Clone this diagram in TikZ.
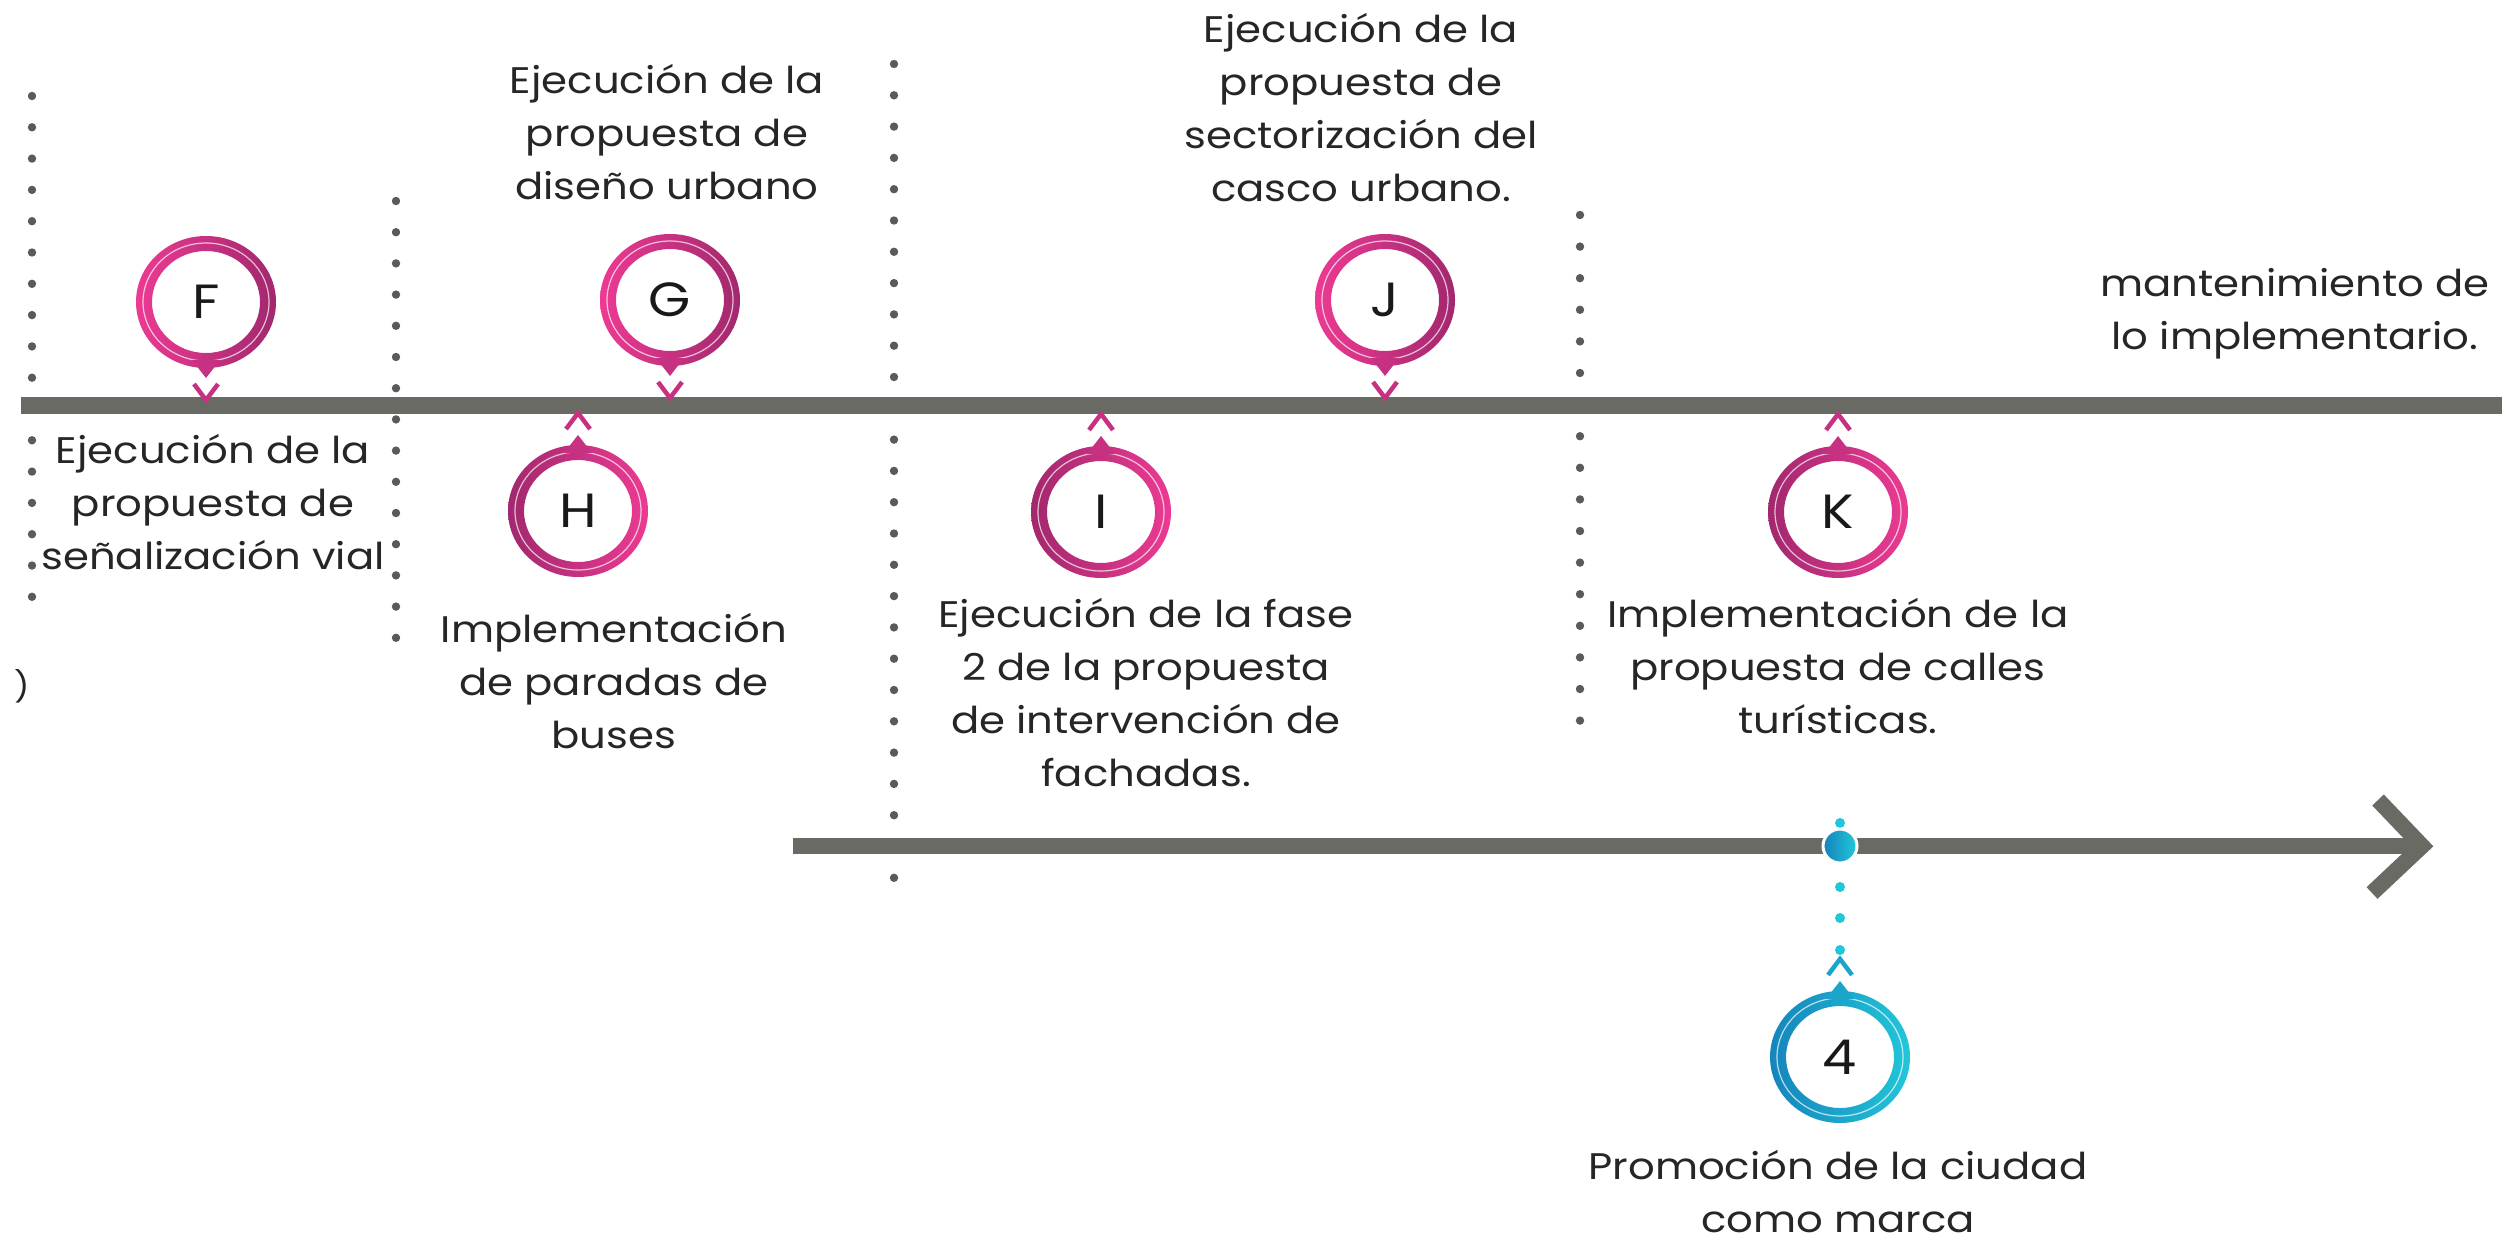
\documentclass[tikz,border=0pt]{standalone}
\usepackage{fontspec}
\setmainfont{Poppins}[FakeStretch=1.13]
\definecolor{linegray}{HTML}{6A6A65}
\definecolor{dotgray}{HTML}{5A5A5A}
\definecolor{pinkA}{HTML}{EC3A93}
\definecolor{purpA}{HTML}{A2286E}
\definecolor{tealA}{HTML}{1585BC}
\definecolor{tealB}{HTML}{22C6D9}
\tikzset{
  lbl/.style={font=\fontsize{37}{53}\selectfont, align=center, text=black!85, inner sep=0pt},
  letter/.style={font=\fontsize{48}{48}\selectfont, text=black!90, inner sep=0pt},
  bar/.style={linegray, line width=17pt},
}
\newcommand{\ringpin}[7]{%
  \shade[left color=#6,right color=#7,even odd rule] (#2,#3) ellipse [x radius=70,y radius=66] (#2,#3) ellipse [x radius=54,y radius=51];
  \draw[white, line width=1.2pt, opacity=.7] (#2,#3) ellipse [x radius=63, y radius=59];
  \fill[#6!50!#7] ({#2-14},{#3+#5*58}) -- (#2,{#3+#5*76}) -- ({#2+14},{#3+#5*58}) -- cycle;
  \draw[#6!50!#7, line width=4.5pt] ({#2-12},{#3+#5*82}) -- (#2,{#3+#5*98}) -- ({#2+12},{#3+#5*82});
  \node[letter] (#1) at (#2,#3) {#4};
}
\begin{document}
\begin{tikzpicture}[x=1pt,y=-1pt]
\useasboundingbox (0,0) rectangle (2502,1242);
% gray dotted separators
\foreach \k in {0,...,16} \fill[dotgray] (32,{96+31.3*\k}) circle (4.2);
\foreach \k in {0,...,14} \fill[dotgray] (396,{201+31.2*\k}) circle (4.2);
\foreach \k in {0,...,26} \fill[dotgray] (894,{64+31.3*\k}) circle (4.2);
\foreach \k in {0,...,16} \fill[dotgray] (1580,{215+31.6*\k}) circle (4.2);
% main timeline
\coordinate (m0) at (21,405);
\coordinate (m1) at (2502,405);
\draw[bar] (m0) -- (m1);
% lower arrow
\coordinate (a0) at (793,846);
\coordinate (a1) at (2422,846);
\draw[bar, line width=16pt] (a0) -- (a1);
\draw[bar, line width=16pt, miter limit=10] (2378,800) -- (a1) -- (2372,893);
% teal marker
\fill[tealB] (1840,823) circle (5);
\foreach \yy in {887,918,950} \fill[tealB] (1840,\yy) circle (5);
\shade[left color=tealA,right color=tealB] (1840,846) circle (16);
\draw[white, line width=3pt] (1840,846) circle (17);
% pins
\ringpin{F}{206}{302}{F}{1}{pinkA}{purpA}
\ringpin{G}{670}{300}{G}{1}{pinkA}{purpA}
\ringpin{J}{1385}{300}{J}{1}{pinkA}{purpA}
\ringpin{H}{578}{511}{H}{(-1)}{purpA}{pinkA}
\ringpin{I}{1101}{512}{I}{(-1)}{purpA}{pinkA}
\ringpin{K}{1838}{512}{K}{(-1)}{purpA}{pinkA}
\ringpin{P4}{1840}{1057}{4}{(-1)}{tealA}{tealB}
% labels
\node[lbl] (tG) at (667,132) {Ejecución de la\\propuesta de\\diseño urbano};
\node[lbl] (tJ) at (1361,108) {Ejecución de la\\propuesta de\\sectorización del\\casco urbano.};
\node[lbl] (tM) at (2295,314) {mantenimiento de\\lo implementario.};
\node[lbl] (tF) at (213,502) {Ejecución de la\\propuesta de\\señalización vial};
\node[lbl] (tH) at (614,681) {Implementación\\de paradas de\\buses};
\node[lbl] (tI) at (1146,693) {Ejecución de la fase\\2 de la propuesta\\de intervención de\\fachadas.};
\node[lbl] (tK) at (1838,666) {Implementación de la\\propuesta de calles\\turísticas.};
\node[lbl] (t4) at (1838,1192) {Promoción de la ciudad\\como marca};
\node[lbl, font=\fontsize{30}{30}\selectfont] (tx) at (22,686) {)};
\end{tikzpicture}
\end{document}
